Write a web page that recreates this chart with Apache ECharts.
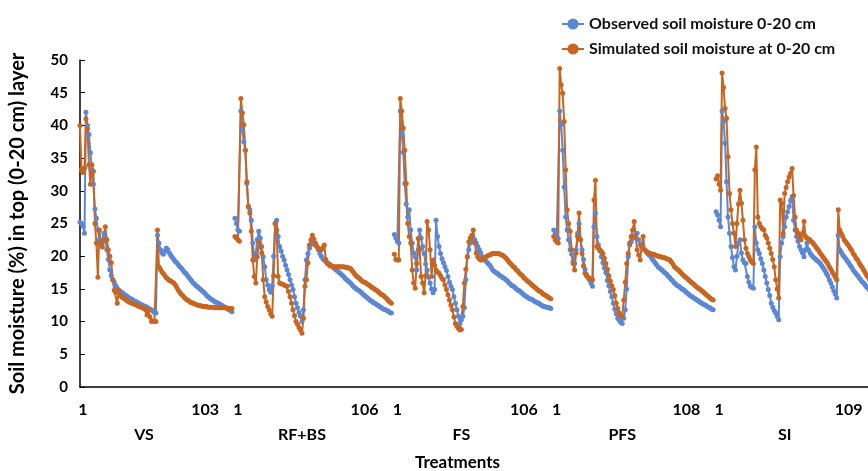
<!DOCTYPE html>
<html>
<head>
<meta charset="utf-8">
<title>Soil moisture</title>
<script src="https://cdn.jsdelivr.net/npm/echarts@6/dist/echarts.min.js"></script>
<style>
  html, body { margin: 0; padding: 0; background: #fff; }
  #chart { width: 868px; height: 471px; }
</style>
</head>
<body>
<div id="chart"></div>
<script>
var treatments = ['VS', 'RF+BS', 'FS', 'PFS', 'SI']
var seriesNames = ['Observed soil moisture 0-20 cm', 'Simulated soil moisture at 0-20 cm']
var yTicks = [0, 5, 10, 15, 20, 25, 30, 35, 40, 45, 50]

// VS, 103 days
var vsObs = [25.2, 25.0, 24.6, 23.5, 42.0, 40.0, 38.6, 35.8, 33.2, 31.0, 27.2, 25.8, 24.0, 22.5, 21.8, 22.0, 23.5, 22.8, 21.0, 19.5,
  17.9, 17.0, 16.4, 16.0, 15.5, 15.1, 14.8, 14.6, 14.5, 14.3, 14.1, 14.0, 13.8, 13.6, 13.5, 13.4, 13.2, 13.1, 13.0, 12.9,
  12.7, 12.6, 12.5, 12.4, 12.3, 12.2, 12.0, 11.9, 11.8, 11.6, 11.4, 11.3, 23.2, 22.0, 21.0, 20.5, 20.3, 20.8, 21.2, 21.0,
  20.5, 20.1, 19.8, 19.5, 19.2, 19.0, 18.7, 18.4, 18.2, 17.9, 17.6, 17.4, 17.1, 16.8, 16.5, 16.2, 15.9, 15.7, 15.5, 15.3,
  15.1, 14.9, 14.7, 14.5, 14.3, 14.0, 13.8, 13.6, 13.4, 13.3, 13.1, 13.0, 12.9, 12.8, 12.6, 12.5, 12.4, 12.2, 12.1, 12.0,
  11.8, 11.7, 11.5]
var vsSim = [40.0, 33.2, 32.8, 33.5, 41.0, 39.5, 34.0, 31.0, 34.0, 33.0, 25.0, 22.0, 16.8, 24.0, 22.0, 21.4, 22.5, 24.5, 22.5, 21.0,
  20.0, 19.0, 16.4, 14.8, 14.5, 12.8, 14.8, 14.0, 13.8, 13.6, 13.5, 13.3, 13.1, 13.0, 12.9, 12.8, 12.7, 12.6, 12.5, 12.4,
  12.3, 12.2, 12.1, 12.0, 11.8, 11.0, 11.8, 10.7, 10.0, 10.1, 10.0, 10.0, 24.0, 18.4, 18.0, 17.6, 17.3, 17.0, 16.7, 16.5,
  16.3, 16.2, 16.0, 15.9, 15.6, 15.2, 14.8, 14.5, 14.2, 14.0, 13.7, 13.5, 13.3, 13.2, 13.0, 12.9, 12.8, 12.7, 12.6, 12.5,
  12.5, 12.4, 12.4, 12.3, 12.3, 12.3, 12.2, 12.2, 12.2, 12.2, 12.2, 12.1, 12.1, 12.1, 12.1, 12.1, 12.1, 12.1, 12.1, 12.0,
  12.0, 12.0, 12.0]

// RF+BS, 106 days
var rfObs = [25.8, 25.0, 24.0, 23.8, 42.2, 39.3, 37.5, 36.2, 31.1, 27.6, 27.1, 25.5, 22.0, 19.4, 20.5, 22.5, 23.8, 22.8, 21.5, 19.9,
  18.4, 16.4, 15.6, 14.9, 14.5, 15.5, 20.0, 25.0, 25.5, 23.0, 21.5, 20.8, 20.0, 19.4, 18.6, 17.9, 17.2, 16.4, 15.6, 14.9,
  13.8, 12.8, 12.1, 11.4, 10.8, 10.0, 11.8, 16.4, 19.4, 20.4, 21.2, 21.8, 22.2, 22.0, 21.7, 21.5, 21.0, 20.4, 20.0, 19.6,
  19.4, 19.2, 19.0, 18.9, 18.7, 18.5, 18.3, 18.1, 17.9, 17.7, 17.5, 17.3, 17.1, 16.9, 16.6, 16.4, 16.2, 16.0, 15.8, 15.5,
  15.3, 15.1, 14.9, 14.8, 14.6, 14.4, 14.2, 14.0, 13.8, 13.6, 13.4, 13.2, 13.1, 12.9, 12.8, 12.6, 12.5, 12.3, 12.2, 12.0,
  11.9, 11.8, 11.7, 11.6, 11.4, 11.3]
var rfSim = [23.0, 22.8, 22.5, 22.3, 44.1, 41.9, 40.1, 36.2, 31.4, 27.6, 26.6, 23.8, 19.4, 16.9, 15.9, 19.9, 22.2, 21.5, 20.5, 16.4,
  13.8, 13.0, 12.3, 11.8, 11.2, 10.8, 17.0, 25.0, 24.0, 16.9, 15.9, 15.8, 15.7, 15.6, 15.5, 15.4, 14.6, 13.8, 12.8, 11.8,
  10.9, 10.0, 9.6, 9.1, 8.7, 8.2, 10.5, 15.4, 16.4, 19.0, 21.7, 22.5, 23.2, 22.6, 22.0, 21.5, 21.2, 21.0, 21.0, 21.3,
  21.7, 19.5, 18.9, 18.7, 18.5, 18.5, 18.4, 18.4, 18.4, 18.4, 18.4, 18.4, 18.4, 18.4, 18.3, 18.3, 18.2, 18.2, 18.0, 17.7,
  17.4, 17.1, 16.9, 16.7, 16.5, 16.3, 16.1, 16.0, 15.9, 15.7, 15.6, 15.4, 15.2, 15.1, 14.9, 14.8, 14.6, 14.4, 14.2, 14.1,
  13.9, 13.7, 13.5, 13.2, 13.0, 12.8]

// FS, 106 days
var fsObs = [23.3, 22.8, 22.3, 22.0, 42.2, 38.7, 35.9, 31.1, 28.0, 26.0, 27.1, 24.0, 22.0, 20.5, 19.9, 17.9, 21.0, 24.0, 22.8, 21.5,
  20.4, 18.8, 17.9, 16.8, 15.9, 15.0, 14.4, 14.9, 25.5, 23.0, 21.5, 20.4, 19.6, 19.0, 18.4, 17.8, 16.9, 16.0, 15.4, 14.9,
  13.8, 12.8, 11.8, 10.8, 9.7, 10.3, 10.8, 12.1, 16.4, 19.9, 21.0, 22.0, 22.3, 22.5, 22.5, 22.0, 21.5, 21.0, 20.5, 19.9,
  19.7, 19.4, 19.1, 18.9, 18.6, 18.3, 17.9, 17.7, 17.5, 17.4, 17.2, 17.0, 16.9, 16.7, 16.6, 16.4, 16.2, 15.9, 15.7, 15.5,
  15.4, 15.2, 15.0, 14.8, 14.7, 14.5, 14.3, 14.1, 13.9, 13.8, 13.6, 13.5, 13.4, 13.3, 13.1, 13.0, 12.9, 12.8, 12.6, 12.5,
  12.3, 12.3, 12.2, 12.2, 12.1, 12.0]
var fsSim = [20.3, 19.5, 19.4, 19.4, 44.1, 42.2, 39.6, 36.2, 31.1, 25.0, 23.0, 22.0, 17.9, 15.9, 15.1, 18.9, 22.7, 21.0, 16.9, 15.9,
  14.4, 17.0, 25.3, 24.0, 21.0, 16.9, 19.4, 18.6, 17.9, 17.6, 17.4, 17.0, 16.6, 16.4, 15.6, 14.9, 14.1, 13.3, 12.5, 11.8,
  10.7, 9.7, 9.3, 9.0, 8.7, 8.8, 12.3, 15.9, 18.0, 19.9, 22.2, 22.8, 23.2, 24.0, 22.0, 20.5, 19.9, 19.6, 19.4, 19.4,
  19.6, 19.8, 20.0, 20.1, 20.2, 20.3, 20.4, 20.4, 20.4, 20.4, 20.4, 20.3, 20.2, 20.1, 19.9, 19.7, 19.4, 19.1, 18.9, 18.6,
  18.4, 18.2, 17.9, 17.7, 17.4, 17.2, 17.0, 16.7, 16.5, 16.3, 16.1, 15.9, 15.7, 15.5, 15.3, 15.1, 14.9, 14.7, 14.6, 14.4,
  14.2, 14.1, 13.9, 13.8, 13.6, 13.5]

// PFS, 108 days
var pfsObs = [24.0, 23.5, 23.0, 22.7, 42.2, 40.1, 36.2, 30.6, 26.0, 24.0, 22.5, 21.0, 20.3, 19.2, 18.9, 21.0, 23.5, 25.0, 22.5, 21.0,
  19.5, 18.0, 17.2, 16.8, 16.4, 15.9, 15.4, 24.5, 26.6, 23.0, 21.7, 20.8, 19.9, 19.0, 18.2, 17.5, 16.3, 15.5, 14.6, 13.8,
  12.8, 11.9, 11.2, 10.5, 10.2, 9.9, 9.7, 10.5, 11.8, 15.0, 19.9, 21.7, 22.2, 22.7, 23.0, 23.3, 23.5, 22.5, 21.8, 21.5,
  21.2, 21.0, 20.7, 20.4, 20.2, 20.0, 19.6, 19.3, 19.0, 18.7, 18.4, 18.2, 18.0, 17.8, 17.6, 17.4, 17.2, 16.9, 16.7, 16.4,
  16.2, 15.9, 15.7, 15.5, 15.4, 15.2, 15.0, 14.9, 14.7, 14.5, 14.3, 14.1, 13.9, 13.8, 13.6, 13.5, 13.3, 13.2, 13.0, 12.9,
  12.7, 12.6, 12.5, 12.3, 12.2, 12.1, 11.9, 11.8]
var pfsSim = [23.0, 22.5, 22.2, 22.0, 48.7, 46.2, 44.9, 40.6, 33.2, 27.1, 25.0, 23.8, 21.0, 18.9, 17.9, 20.5, 23.0, 26.6, 22.5, 20.4,
  18.5, 17.4, 17.0, 16.8, 16.6, 16.5, 16.4, 28.6, 31.6, 21.5, 21.2, 21.0, 20.7, 20.4, 19.7, 18.9, 18.0, 17.0, 16.2, 15.5,
  14.9, 14.0, 12.8, 12.0, 11.3, 11.0, 10.8, 13.3, 16.0, 18.9, 20.4, 22.0, 23.0, 24.0, 25.3, 23.0, 21.0, 20.2, 19.4, 21.5,
  23.0, 21.0, 20.8, 20.6, 20.5, 20.4, 20.3, 20.3, 20.2, 20.1, 20.0, 20.0, 19.9, 19.8, 19.8, 19.7, 19.6, 19.5, 19.4, 19.1,
  18.8, 18.4, 18.2, 18.0, 17.8, 17.6, 17.3, 17.1, 16.9, 16.7, 16.5, 16.3, 16.1, 15.9, 15.7, 15.5, 15.3, 15.1, 15.0, 14.8,
  14.6, 14.4, 14.2, 14.0, 13.8, 13.6, 13.4, 13.3]

// SI, 109 days
var siObs = [26.8, 26.3, 25.5, 24.5, 42.2, 40.6, 37.3, 31.4, 26.0, 23.5, 21.5, 19.8, 18.4, 17.9, 20.0, 22.0, 22.5, 20.5, 19.4, 19.0,
  18.9, 16.9, 16.0, 15.4, 15.2, 15.1, 24.5, 22.0, 21.0, 20.4, 19.6, 18.9, 17.9, 16.9, 15.9, 14.9, 14.0, 12.8, 12.2, 11.7,
  11.3, 10.8, 10.3, 19.9, 22.0, 23.0, 24.5, 26.0, 26.8, 27.6, 28.5, 29.1, 25.5, 24.0, 23.0, 22.3, 21.5, 21.0, 20.5, 19.9,
  21.0, 22.0, 21.0, 20.5, 20.2, 19.9, 19.7, 19.5, 19.3, 19.1, 18.9, 18.5, 18.2, 17.8, 17.4, 17.0, 16.4, 15.9, 15.3, 14.7,
  14.2, 13.6, 23.2, 21.0, 20.6, 20.2, 19.9, 19.6, 19.3, 19.0, 18.6, 18.3, 17.9, 17.6, 17.3, 17.0, 16.7, 16.4, 16.1, 15.9,
  15.6, 15.3, 15.1, 14.8, 14.5, 14.2, 13.9, 13.6, 13.3]
var siSim = [31.8, 32.3, 31.0, 30.1, 48.0, 45.8, 42.6, 41.1, 35.2, 29.6, 27.1, 25.0, 23.5, 21.5, 25.0, 28.0, 30.1, 28.1, 25.5, 22.5,
  21.2, 20.4, 19.9, 19.4, 19.1, 18.9, 33.2, 36.7, 26.0, 25.0, 24.5, 24.2, 24.0, 23.2, 22.8, 22.0, 21.2, 20.4, 19.5, 18.4,
  16.4, 15.0, 13.6, 28.6, 28.1, 23.5, 29.6, 30.5, 31.4, 32.1, 32.7, 33.4, 29.3, 26.0, 24.0, 23.5, 23.0, 22.5, 23.5, 25.3,
  23.0, 22.8, 22.6, 22.5, 22.2, 22.0, 21.7, 21.4, 21.1, 20.8, 20.4, 20.1, 19.8, 19.5, 19.2, 18.8, 18.4, 18.0, 17.6, 17.2,
  16.8, 16.4, 27.1, 24.0, 23.5, 23.0, 22.5, 22.2, 21.9, 21.6, 21.2, 20.9, 20.4, 20.1, 19.7, 19.4, 19.0, 18.6, 18.3, 17.9,
  17.5, 17.1, 16.8, 16.4, 16.1, 15.9, 15.6, 15.3, 15.0]

var obsGroups = [vsObs, rfObs, fsObs, pfsObs, siObs]
var simGroups = [vsSim, rfSim, fsSim, pfsSim, siSim]

// one long category axis, an empty slot between treatments so the lines break
var days = []
var obsData = []
var simData = []
var dayLabels = {}
var groupLabels = {}
obsGroups.forEach(function(g, gi) {
  if (gi > 0) {
    days.push('')
    obsData.push(null)
    simData.push(null)
  }
  var start = days.length
  for (var d = 0; d < g.length; d++) {
    days.push(String(d + 1))
    obsData.push(g[d])
    simData.push(simGroups[gi][d])
  }
  var a = start + 2
  var b = start + Math.round(g.length * 0.82)
  dayLabels[a] = '1'
  dayLabels[b] = String(g.length)
  groupLabels[Math.round((a + b) / 2)] = treatments[gi]
})

var font = 'Lato, "Open Sans", sans-serif'
var chart = echarts.init(document.getElementById('chart'))
chart.setOption({
  animation: false,
  textStyle: { fontFamily: font },
  grid: { left: 80, right: -9, top: 60, bottom: 84, containLabel: false, outerBoundsMode: 'none' },
  legend: {
    orient: 'vertical',
    left: 556,
    top: 11,
    itemWidth: 22,
    itemHeight: 14,
    itemGap: 9,
    textStyle: { fontFamily: font, fontSize: 16, fontWeight: 'bold', color: '#111' },
    data: seriesNames
  },
  xAxis: [{
    type: 'category',
    data: days,
    boundaryGap: false,
    axisLine: { lineStyle: { color: '#000', width: 1.5 } },
    axisTick: { show: false },
    splitLine: { show: false },
    axisLabel: {
      interval: function(i) { return dayLabels[i] !== undefined },
      formatter: function(v, i) { return dayLabels[i] || '' },
      color: '#000',
      fontFamily: font,
      fontSize: 16,
      fontWeight: 'bold',
      margin: 15
    }
  }, {
    type: 'category',
    data: days,
    position: 'bottom',
    offset: 32,
    boundaryGap: false,
    axisLine: { show: false },
    axisTick: { show: false },
    axisLabel: {
      interval: function(i) { return groupLabels[i] !== undefined },
      formatter: function(v, i) { return groupLabels[i] || '' },
      color: '#000',
      fontFamily: font,
      fontSize: 16,
      fontWeight: 'bold'
    },
    name: 'Treatments',
    nameLocation: 'middle',
    nameGap: 35,
    nameTextStyle: { color: '#000', fontFamily: font, fontSize: 17, fontWeight: 'bold', padding: [0, 42, 0, 0] }
  }],
  yAxis: {
    type: 'value',
    min: yTicks[0],
    max: yTicks[yTicks.length - 1],
    interval: yTicks[1] - yTicks[0],
    axisLine: { show: true, lineStyle: { color: '#000', width: 1.5 } },
    axisTick: { show: true, inside: true, length: 5, lineStyle: { color: '#000' } },
    splitLine: { show: false },
    axisLabel: { color: '#000', fontFamily: font, fontSize: 15, fontWeight: 'bold', margin: 12 },
    name: 'Soil moisture (%) in top (0-20 cm) layer',
    nameLocation: 'middle',
    nameRotate: 90,
    nameGap: 52,
    nameTextStyle: { color: '#000', fontFamily: font, fontSize: 20, fontWeight: 'bold' }
  },
  series: [{
    name: seriesNames[0],
    type: 'line',
    data: obsData,
    symbol: 'circle',
    symbolSize: 5,
    showAllSymbol: true,
    connectNulls: false,
    color: '#5b87d6',
    lineStyle: { color: '#5b87d6', width: 2 },
    itemStyle: { color: '#5b87d6' }
  }, {
    name: seriesNames[1],
    type: 'line',
    data: simData,
    symbol: 'circle',
    symbolSize: 5,
    showAllSymbol: true,
    connectNulls: false,
    color: '#c9651f',
    lineStyle: { color: '#c9651f', width: 2 },
    itemStyle: { color: '#c9651f' }
  }]
})
</script>
</body>
</html>
